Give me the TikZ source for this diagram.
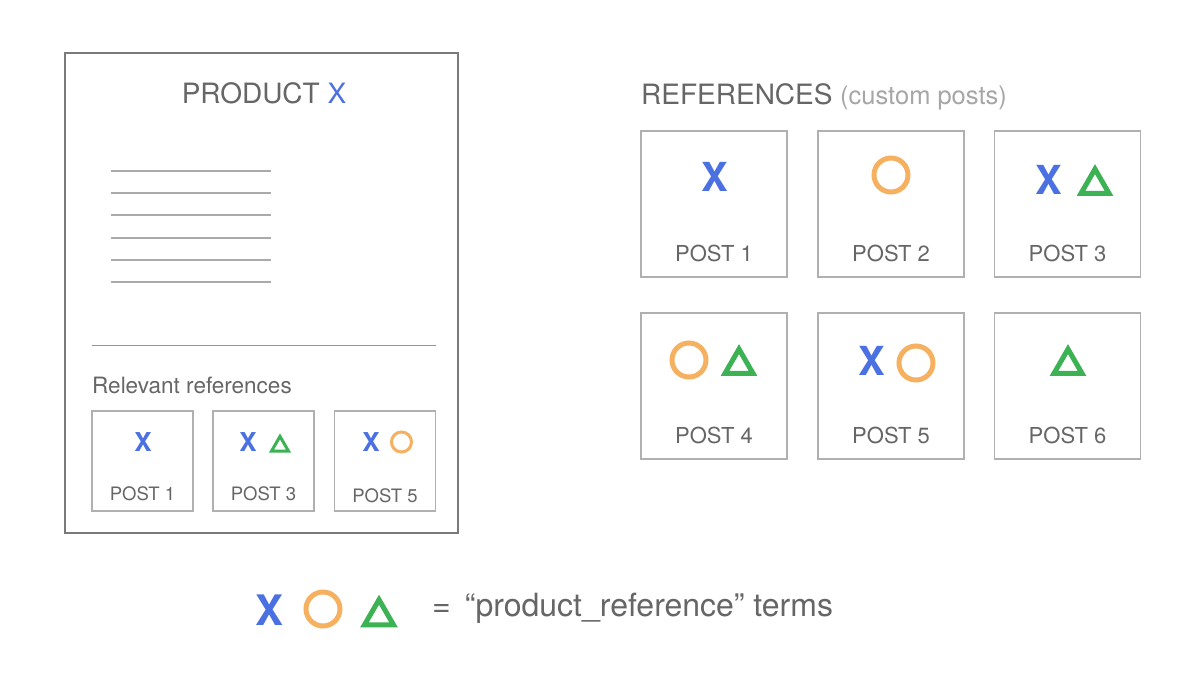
\documentclass[tikz,border=0pt]{standalone}
\usepackage{fontspec}
\setmainfont{TeX Gyre Heros}
\definecolor{txt}{HTML}{666666}
\definecolor{lighttxt}{HTML}{A6A6A6}
\definecolor{blu}{HTML}{4A70E2}
\definecolor{org}{HTML}{F5B160}
\definecolor{grn}{HTML}{3DB254}
\definecolor{frame}{HTML}{7A7A7A}
\definecolor{pframe}{HTML}{B0B0B0}
\definecolor{tline}{HTML}{AAAAAA}
\newcommand\fs[1]{\fontsize{#1}{#1}\selectfont}
% triangle: x, y, side, line width
\newcommand\trisym[4]{\draw[grn,line width=#4pt,line join=miter]
  ({#1},{#2-0.433*#3+0.25*#4}) -- ({#1+0.5*#3},{#2+0.433*#3+0.25*#4}) -- ({#1-0.5*#3},{#2+0.433*#3+0.25*#4}) -- cycle;}
% circle: x, y, radius, line width
\newcommand\circsym[4]{\draw[org,line width=#4pt] (#1,#2) circle[radius=#3pt];}
\tikzset{
  prodbox/.style={draw=frame,line width=2pt,minimum width=393pt,minimum height=480pt,inner sep=0pt},
  bigpost/.style={draw=pframe,line width=1.2pt,minimum width=146pt,minimum height=146pt,inner sep=0pt},
  smallpost/.style={draw=pframe,line width=1.1pt,minimum width=101pt,minimum height=100pt,inner sep=0pt},
  biglabel/.style={text=txt,font=\fs{22},inner sep=0pt},
  smalllabel/.style={text=txt,font=\fs{18.5},inner sep=0pt},
  bigx/.style={text=blu,font=\bfseries\fs{40},inner sep=0pt},
  smallx/.style={text=blu,font=\bfseries\fs{26},inner sep=0pt},
  textline/.style={draw=tline,line width=2pt}
}
\begin{document}
\begin{tikzpicture}[x=1pt,y=-1pt]
\useasboundingbox[fill=white] (0,0) rectangle (1200,675);

% ---------- product page ----------
\node[prodbox] (prod) at (261.5,293) {};
\node[anchor=base,inner sep=0pt,text=txt,font=\fs{28}] (ptitle) at (264,103) {PRODUCT \textcolor{blu}{X}};
\foreach \yy in {171,193,215,238,260,282}{
  \draw[textline] (111,\yy) -- (271,\yy);
}
\draw[draw=frame!80,line width=1pt] (92,345) -- (436,345);
\node[anchor=base west,inner sep=0pt,text=txt,font=\fs{22.5}] (relref) at (92,393) {Relevant references};

\node[smallpost] (s1) at (142.5,461) {};
\node[smallpost] (s3) at (263.5,461) {};
\node[smallpost] (s5) at (385,461) {};
\node[smallx] (s1x) at (143,442) {X};
\node[smallx] (s3x) at (248,442) {X};
\trisym{280}{443}{17}{3}
\node[smallx] (s5x) at (371,442) {X};
\circsym{401.5}{442}{10}{3}
\node[smalllabel] (s1l) at (142.5,494) {POST 1};
\node[smalllabel] (s3l) at (263.5,494) {POST 3};
\node[smalllabel] (s5l) at (385,496) {POST 5};

% ---------- references ----------
\node[anchor=base west,inner sep=0pt,text=txt,font=\fs{28}] (rtitle) at (641,104)
  {REFERENCES \textcolor{lighttxt}{\fs{25.5}(custom posts)}};

\node[bigpost] (p1) at (714,204) {};
\node[bigpost] (p2) at (891,204) {};
\node[bigpost] (p3) at (1067.5,204) {};
\node[bigpost] (p4) at (714,386) {};
\node[bigpost] (p5) at (891,386) {};
\node[bigpost] (p6) at (1067.5,386) {};

\node[biglabel] (p1l) at (714,253) {POST 1};
\node[biglabel] (p2l) at (891,253) {POST 2};
\node[biglabel] (p3l) at (1067.5,253) {POST 3};
\node[biglabel] (p4l) at (714,435) {POST 4};
\node[biglabel] (p5l) at (891,435) {POST 5};
\node[biglabel] (p6l) at (1067.5,435) {POST 6};

\node[bigx] (p1x) at (715,177) {X};
\circsym{891}{175}{17}{5}
\node[bigx] (p3x) at (1049,180) {X};
\trisym{1095}{180}{28}{5}
\circsym{689}{360}{17}{5}
\trisym{739}{360}{28}{5}
\node[bigx] (p5x) at (872,361) {X};
\circsym{916}{363}{17}{5}
\trisym{1068}{360}{28}{5}

% ---------- legend ----------
\node[bigx,font=\bfseries\fs{42}] (lx) at (270,610) {X};
\circsym{323}{609}{17}{5}
\trisym{379}{611}{29}{5}
\node[anchor=base west,inner sep=0pt,text=txt,font=\fs{32}] (legend) at (432,616)
  {=\hspace{14pt}“product\_reference” terms};
\end{tikzpicture}
\end{document}
